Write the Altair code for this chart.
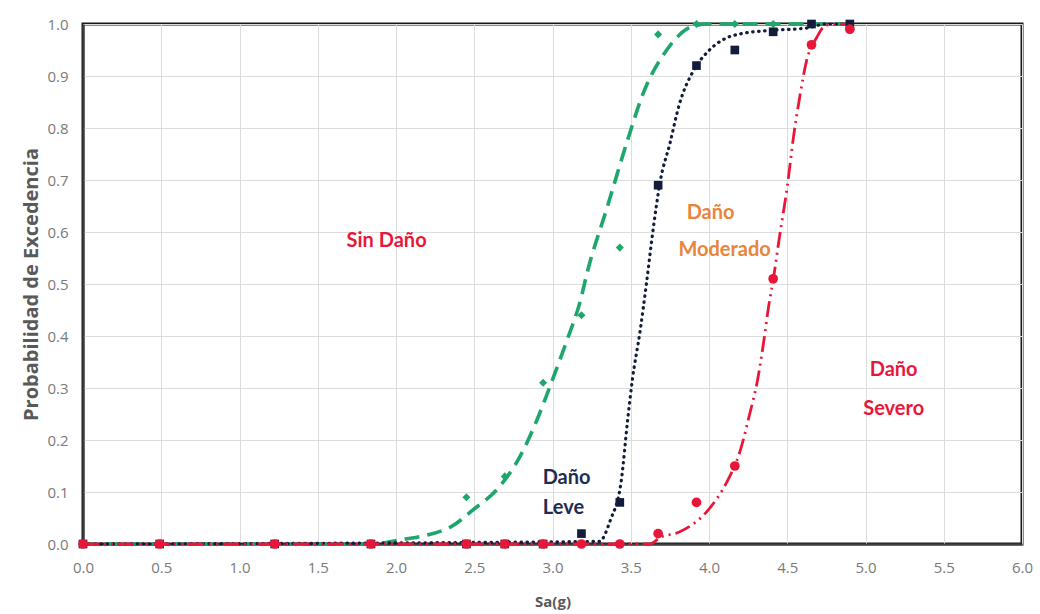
import altair as alt
import pandas as pd

# Observed points (Sa in g)
sa_pts = [0.0, 0.49, 1.225, 1.84, 2.45, 2.695, 2.94, 3.185, 3.43, 3.675, 3.92, 4.165, 4.41, 4.655, 4.90]
leve_pts = [0, 0, 0, 0, 0.09, 0.13, 0.31, 0.44, 0.57, 0.98, 1.0, 1.0, 1.0, 1.0, 1.0]
moderado_pts = [0, 0, 0, 0, 0, 0, 0, 0.02, 0.08, 0.69, 0.92, 0.95, 0.985, 1.0, 1.0]
severo_pts = [0, 0, 0, 0, 0, 0, 0, 0, 0, 0.02, 0.08, 0.15, 0.51, 0.96, 0.99]

# Fitted curves
leve_cx = [0.0, 1.84, 2.03, 2.35, 2.49, 2.66, 2.79, 2.90, 2.98, 3.09, 3.18, 3.22, 3.35, 3.48, 3.58, 3.73, 3.90, 4.0, 4.9]
leve_cy = [0.0, 0.0, 0.008, 0.033, 0.065, 0.11, 0.167, 0.238, 0.30, 0.39, 0.47, 0.52, 0.648, 0.777, 0.867, 0.95, 0.996, 1.0, 1.0]

mod_cx = [0.0, 3.30, 3.37, 3.44, 3.48, 3.51, 3.56, 3.60, 3.64, 3.69, 3.75, 3.81, 3.90, 3.99, 4.11, 4.20, 4.41, 4.62, 4.75, 4.9]
mod_cy = [0.0, 0.005, 0.046, 0.123, 0.238, 0.315, 0.41, 0.50, 0.598, 0.70, 0.77, 0.845, 0.91, 0.946, 0.973, 0.981, 0.988, 0.992, 1.0, 1.0]

sev_cx = [0.0, 3.62, 3.69, 3.81, 4.01, 4.11, 4.20, 4.26, 4.31, 4.35, 4.38, 4.41, 4.45, 4.50, 4.54, 4.58, 4.62, 4.69, 4.75, 4.9]
sev_cy = [0.0, 0.0, 0.013, 0.023, 0.071, 0.117, 0.18, 0.25, 0.315, 0.39, 0.455, 0.507, 0.59, 0.687, 0.783, 0.86, 0.925, 0.975, 0.998, 1.0]

# Annotations
ann_text = ["Sin Daño", "Daño", "Leve", "Daño", "Moderado", "Daño", "Severo"]
ann_x = [1.94, 3.09, 3.07, 4.01, 4.10, 5.18, 5.18]
ann_y = [0.583, 0.127, 0.069, 0.637, 0.565, 0.335, 0.26]
ann_color = ["#E8173A", "#1F2D52", "#1F2D52", "#E8853A", "#E8853A", "#E8173A", "#E8173A"]

GREEN = "#1FA66C"
NAVY = "#141C3C"
RED = "#E8173A"

pts = pd.DataFrame({"x": sa_pts, "leve": leve_pts, "mod": moderado_pts, "sev": severo_pts})
c_leve = pd.DataFrame({"x": leve_cx, "y": leve_cy})
c_mod = pd.DataFrame({"x": mod_cx, "y": mod_cy})
c_sev = pd.DataFrame({"x": sev_cx, "y": sev_cy})
ann = pd.DataFrame({"t": ann_text, "x": ann_x, "y": ann_y, "c": ann_color})

xs = alt.Scale(domain=[0, 6], nice=False, zero=False)
ys = alt.Scale(domain=[0, 1], nice=False)

xax = alt.Axis(values=[i * 0.5 for i in range(13)], format=".1f", title="Sa(g)",
               grid=True, ticks=False, labelPadding=16, titlePadding=19, labelFlush=False)
yax = alt.Axis(values=[i / 10 for i in range(11)], format=".1f", title="Probabilidad de Excedencia",
               grid=True, ticks=False, labelPadding=15, titlePadding=5, labelFlush=False)

X = alt.X("x:Q", scale=xs, axis=xax)
Y = lambda f: alt.Y(f, scale=ys, axis=yax)

line_sev = alt.Chart(c_sev).mark_line(color=RED, strokeWidth=2.8, strokeDash=[16, 5, 2, 5, 2, 5],
                                      interpolate="monotone").encode(x=X, y=Y("y:Q"))
line_mod = alt.Chart(c_mod).mark_line(color=NAVY, strokeWidth=3.2, strokeDash=[0.5, 5.5], strokeCap="round",
                                      interpolate="monotone").encode(x=X, y=Y("y:Q"))
line_leve = alt.Chart(c_leve).mark_line(color=GREEN, strokeWidth=3.6, strokeDash=[15, 8],
                                        interpolate="monotone").encode(x=X, y=Y("y:Q"))

m_leve = alt.Chart(pts).mark_point(shape="diamond", filled=True, color=GREEN, size=65, opacity=1).encode(x=X, y=Y("leve:Q"))
m_mod = alt.Chart(pts).mark_point(shape="square", filled=True, color=NAVY, size=75, opacity=1).encode(x=X, y=Y("mod:Q"))
m_sev = alt.Chart(pts).mark_point(shape="circle", filled=True, color=RED, size=95, opacity=1).encode(x=X, y=Y("sev:Q"))

texts = alt.Chart(ann).mark_text(fontSize=20, fontWeight="bold", font="Lato", align="center",
                                 baseline="middle").encode(
    x=X, y=Y("y:Q"), text="t:N", color=alt.Color("c:N", scale=None))

chart = alt.layer(line_leve, line_mod, line_sev, m_leve, m_mod, m_sev, texts).properties(
    width=939, height=520, autosize="none",
    padding={"left": 83, "top": 24, "right": 18, "bottom": 70},
    background="white",
).configure_view(
    stroke="#1a1a1a", strokeWidth=3
).configure_axis(
    labelFont="Open Sans", labelFontSize=15, labelColor="#7a7a7a",
    titleFont="Open Sans", titleFontWeight="bold", titleColor="#595959",
    gridColor="#dcdcdc", gridWidth=1, domainColor="#404040", domainWidth=2,
).configure_axisX(titleFontSize=15).configure_axisY(titleFontSize=20)

chart.save("out.html", embed_options={"renderer": "svg", "actions": False})
